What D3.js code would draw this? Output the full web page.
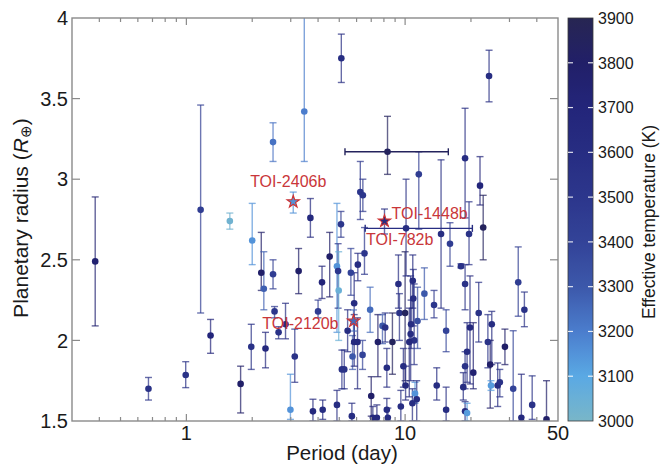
<!DOCTYPE html>
<html><head><meta charset="utf-8">
<script src="https://cdn.jsdelivr.net/npm/d3@7"></script>
<style>
body{margin:0;background:#fff;}
text{font-family:"Liberation Sans",Arial,Helvetica,sans-serif;fill:#1a1a1a;}
</style>
</head><body>
<svg id="chart" width="660" height="470"></svg>
<script>
// ---------------- data ----------------
const period = [0.383,0.671,0.993,1.162,1.29,1.58,1.77,1.98,2.0,2.20,2.26,2.30,2.49,2.49,2.53,2.64,2.84,2.99,3.13,3.26,
  3.46,3.69,3.79,4.0,4.17,4.20,4.52,4.88,5.09,4.88,4.94,4.97,5.11,5.46,5.14,5.27,5.65,5.71,5.75,5.85,
  5.85,6.06,6.08,6.24,6.41,6.39,6.52,6.92,7.0,7.12,7.43,7.51,7.88,8.11,8.25,8.25,8.75,8.31,9.32,9.42,
  10.0,10.84,10.9,10.65,10.6,11.0,11.4,10.45,9.82,10.05,9.56,11.1,11.3,10.8,8.34,12.25,13.56,14.6,15.4,13.95,
  15.4,16.04,18.0,19.6,18.8,11.55,22.0,22.75,24.2,18.8,19.8,21.7,19.2,18.8,20.5,18.45,18.8,19.2,23.9,24.9,
  24.5,28.6,24.7,26.5,27.1,31.2,34.0,38.1,44.3,32.9,35.1];
const radius = [2.49,1.70,1.785,2.81,2.03,2.74,1.73,1.96,2.62,2.42,2.32,1.95,3.23,2.41,2.18,2.05,2.10,1.57,1.90,2.43,
  3.42,2.76,1.56,2.18,2.36,1.57,2.52,1.60,2.72,2.46,2.43,2.31,3.75,2.06,1.82,1.82,2.42,1.53,1.90,2.23,
  1.99,1.99,2.47,2.92,2.90,1.91,2.54,2.19,1.655,1.52,1.52,1.99,2.09,2.08,1.83,1.57,1.99,3.17,2.35,2.17,
  2.17,2.37,2.26,2.10,2.04,2.00,2.12,1.99,1.84,1.72,1.59,1.67,1.635,1.61,1.52,2.29,2.22,2.66,2.06,1.72,
  1.57,2.60,2.46,2.66,3.13,3.03,2.96,2.70,3.64,2.35,2.08,2.17,1.93,1.84,1.80,1.71,1.56,1.55,1.99,2.10,
  1.85,1.96,1.72,1.72,1.74,1.70,1.52,1.60,1.51,2.36,2.19];
const radiusLow = [2.09,1.63,1.707,2.17,1.92,2.69,1.55,1.82,2.47,2.31,2.19,1.83,3.11,2.32,2.14,2.01,2.01,1.51,1.74,2.29,
  3.11,2.64,1.50,2.14,2.26,1.51,2.27,1.50,2.64,2.05,2.20,2.00,3.60,1.93,1.70,1.70,2.28,1.50,1.82,1.98,
  1.84,1.70,2.37,2.75,2.80,1.82,2.41,2.05,1.53,1.50,1.50,1.775,1.98,1.99,1.71,1.50,1.79,3.03,2.20,2.00,
  1.75,2.20,2.09,1.95,1.75,1.85,1.95,1.65,1.71,1.63,1.50,1.61,1.50,1.50,1.50,2.13,2.14,2.20,1.93,1.63,
  1.50,2.46,2.45,2.47,2.76,2.69,2.84,2.50,3.48,2.19,1.73,1.99,1.74,1.70,1.70,1.63,1.50,1.50,1.83,1.85,
  1.58,1.85,1.69,1.59,1.65,1.50,1.50,1.51,1.50,2.15,2.085];
const radiusHigh = [2.89,1.77,1.868,3.46,2.13,2.79,1.84,2.10,2.85,2.67,2.55,2.05,3.35,2.50,2.21,2.085,2.23,1.79,2.07,2.57,
  4.30,2.88,1.635,2.25,2.46,1.63,2.67,1.69,2.80,2.85,2.60,2.55,3.90,2.19,1.94,1.94,2.57,1.61,2.03,2.42,
  2.16,2.14,2.54,3.11,3.00,2.00,2.70,2.33,1.775,1.59,1.60,2.16,2.16,2.17,1.95,1.64,2.17,3.39,2.53,2.29,
  2.55,2.53,2.44,2.25,2.40,2.35,2.33,2.20,1.95,1.84,1.69,1.74,1.75,1.70,1.58,2.45,2.31,3.12,2.19,1.83,
  1.71,2.73,2.475,2.86,3.44,3.17,3.14,2.90,3.80,2.47,2.40,2.36,2.11,1.93,2.11,1.80,1.62,1.61,2.16,2.18,
  2.00,2.07,1.75,1.86,1.82,2.06,1.79,1.78,1.75,2.58,2.30];
const teff = [3750,3550,3550,3450,3700,3030,3800,3550,3150,3800,3280,3650,3230,3450,3500,3550,3600,3150,3550,3800,
  3200,3650,3650,3450,3700,3600,3800,3600,3500,3150,3500,3050,3600,3600,3550,3550,3400,3600,3300,3600,
  3650,3650,3600,3500,3500,3400,3500,3250,3800,3650,3650,3800,3300,3550,3600,3600,3850,3850,3600,3550,
  3850,3600,3600,3600,3600,3550,3350,3650,3600,3650,3600,3150,3600,3600,3600,3300,3500,3600,3400,3600,
  3600,3450,3550,3550,3600,3450,3700,3850,3600,3550,3650,3550,3600,3550,3750,3600,3600,3130,3550,3600,
  3800,3800,3130,3600,3550,3400,3650,3550,3800,3450,3550];

// planet with period uncertainty drawn
const xErrPeriod = [8.31];
const xErrRadius = [3.17];
const xErrLow = [5.31];
const xErrHigh = [15.76];

// labelled planets
const labelNames = ["TOI-2406b","TOI-1448b","TOI-782b","TOI-2120b"];
const labelPeriod = [3.08,8.05,10.1,5.81];
const labelRadius = [2.86,2.74,2.695,2.12];
const labelRLow = [2.79,2.66,2.40,2.058];
const labelRHigh = [2.92,2.815,3.0,2.189];
const labelPLow = [null,null,6.57,null];
const labelPHigh = [null,null,20.3,null];
const labelTeff = [3150,3600,3600,3250];
const labelIsStar = [true,true,false,true];

const xTickLabels = [1,10,50];
const yTickValues = [1.5,2,2.5,3,3.5,4];
const cbTicks = [3000,3100,3200,3300,3400,3500,3600,3700,3800,3900];

// ---------------- chart ----------------
const svg = d3.select("#chart");
const L=72, R=558, T=18, B=421;
const x = d3.scaleLog().domain([0.3,50]).range([L,R]);
const y = d3.scaleLinear().domain([1.5,4]).range([B,T]);
const color = d3.scaleLinear()
  .domain([3000,3100,3200,3300,3400,3500,3600,3700,3800,3900])
  .range(["#79b6c8","#5aa9e4","#4b7dcd","#3c58aa","#334398","#2c368c","#272d82","#23257a","#211f68","#272652"])
  .clamp(true);

svg.append("defs").append("clipPath").attr("id","plotclip")
  .append("rect").attr("x",L).attr("y",T).attr("width",R-L).attr("height",B-T);

const plot = svg.append("g").attr("clip-path","url(#plotclip)");
const cap = 3.5;

function errBar(g, px, r, lo, hi, col){
  const gx = x(px);
  g.append("line").attr("x1",gx).attr("x2",gx).attr("y1",y(lo)).attr("y2",y(hi))
    .attr("stroke",col).attr("stroke-width",1.4).attr("opacity",0.7);
  [lo,hi].forEach(v=>{
    g.append("line").attr("x1",gx-cap).attr("x2",gx+cap).attr("y1",y(v)).attr("y2",y(v))
      .attr("stroke",col).attr("stroke-width",1.4).attr("opacity",0.7);
  });
}
function hBar(g, r, plo, phi, col){
  const gy = y(r);
  g.append("line").attr("x1",x(plo)).attr("x2",x(phi)).attr("y1",gy).attr("y2",gy)
    .attr("stroke",col).attr("stroke-width",1.4);
  [plo,phi].forEach(v=>{
    g.append("line").attr("x1",x(v)).attr("x2",x(v)).attr("y1",gy-cap).attr("y2",gy+cap)
      .attr("stroke",col).attr("stroke-width",1.4);
  });
}

const bars = plot.append("g");
period.forEach((p,i)=>errBar(bars,p,radius[i],radiusLow[i],radiusHigh[i],color(teff[i])));
xErrPeriod.forEach((p,i)=>hBar(bars,xErrRadius[i],xErrLow[i],xErrHigh[i],color(3850)));
labelPeriod.forEach((p,i)=>{
  errBar(bars,p,labelRadius[i],labelRLow[i],labelRHigh[i],color(labelTeff[i]));
  if(labelPLow[i]!=null) hBar(bars,labelRadius[i],labelPLow[i],labelPHigh[i],color(labelTeff[i]));
});

plot.append("g").selectAll("circle").data(period).join("circle")
  .attr("cx",d=>x(d)).attr("cy",(d,i)=>y(radius[i])).attr("r",3.3)
  .attr("fill",(d,i)=>color(teff[i]));

const star = d3.symbol().type(d3.symbolStar).size(48);
labelPeriod.forEach((p,i)=>{
  if(labelIsStar[i]){
    plot.append("path").attr("d",star())
      .attr("transform",`translate(${x(p)},${y(labelRadius[i])})`)
      .attr("fill",color(labelTeff[i])).attr("stroke","#cf3232").attr("stroke-width",1.1);
  } else {
    plot.append("circle").attr("cx",x(p)).attr("cy",y(labelRadius[i])).attr("r",3.3)
      .attr("fill",color(labelTeff[i]));
  }
});

// labels
const labOff = [[-5,-15,"middle"],[7,-2,"start"],[-40,17,"start"],[-15,8,"end"]];
labelNames.forEach((n,i)=>{
  svg.append("text").attr("x",x(labelPeriod[i])+labOff[i][0]).attr("y",y(labelRadius[i])+labOff[i][1])
    .attr("text-anchor",labOff[i][2]).attr("font-size",16).style("fill","#c9363a").text(n);
});

// frame
const axisCol = "#8a8a8a";
svg.append("rect").attr("x",L).attr("y",T).attr("width",R-L).attr("height",B-T)
  .attr("fill","none").attr("stroke",axisCol).attr("stroke-width",1.4);

// x ticks (log)
const allX = x.ticks().filter(v=>v>0.3 && v<50);
allX.forEach(v=>{
  const major = (v===1||v===10);
  const len = major?7:4;
  svg.append("line").attr("x1",x(v)).attr("x2",x(v)).attr("y1",B).attr("y2",B-len).attr("stroke",axisCol).attr("stroke-width",1.2);
  svg.append("line").attr("x1",x(v)).attr("x2",x(v)).attr("y1",T).attr("y2",T+len).attr("stroke",axisCol).attr("stroke-width",1.2);
});
xTickLabels.forEach(v=>{
  svg.append("text").attr("x",x(v)).attr("y",440).attr("text-anchor","middle").attr("font-size",20).text(v);
});
// y ticks
yTickValues.forEach(v=>{
  if(v>1.5 && v<4){
    svg.append("line").attr("x1",L).attr("x2",L+8).attr("y1",y(v)).attr("y2",y(v)).attr("stroke",axisCol).attr("stroke-width",1.2);
    svg.append("line").attr("x1",R).attr("x2",R-8).attr("y1",y(v)).attr("y2",y(v)).attr("stroke",axisCol).attr("stroke-width",1.2);
  }
  svg.append("text").attr("x",68).attr("y",y(v)).attr("dy","0.36em").attr("text-anchor","end").attr("font-size",20).text(v);
});

// axis titles
svg.append("text").attr("x",342).attr("y",460).attr("text-anchor","middle").attr("font-size",20.5).text("Period (day)");
const yl = svg.append("text").attr("transform","translate(28,218) rotate(-90)").attr("text-anchor","middle").attr("font-size",21);
yl.append("tspan").text("Planetary radius (");
yl.append("tspan").attr("font-style","italic").text("R");
yl.append("tspan").attr("font-size",15).attr("dy",3).text("⊕");
yl.append("tspan").attr("dy",-3).text(")");

// colorbar
const cbX=568, cbW=25;
const cy = d3.scaleLinear().domain([3000,3900]).range([B,T]);
const grad = svg.select("defs").append("linearGradient").attr("id","cbgrad")
  .attr("x1",0).attr("y1",1).attr("x2",0).attr("y2",0);
d3.range(3000,3901,25).forEach(t=>{
  grad.append("stop").attr("offset",(t-3000)/900).attr("stop-color",color(t));
});
svg.append("rect").attr("x",cbX).attr("y",T).attr("width",cbW).attr("height",B-T)
  .attr("fill","url(#cbgrad)").attr("stroke","#3a3a3a").attr("stroke-width",0.8);
cbTicks.forEach(t=>{
  if(t>3000 && t<3900){
    svg.append("line").attr("x1",cbX).attr("x2",cbX+5).attr("y1",cy(t)).attr("y2",cy(t)).attr("stroke","#ffffff").attr("stroke-width",1.2).attr("opacity",0.85);
    svg.append("line").attr("x1",cbX+cbW-5).attr("x2",cbX+cbW).attr("y1",cy(t)).attr("y2",cy(t)).attr("stroke","#ffffff").attr("stroke-width",1.2).attr("opacity",0.85);
  }
  svg.append("text").attr("x",598).attr("y",cy(t)).attr("dy","0.36em").attr("font-size",16).text(t);
});
svg.append("text").attr("transform","translate(655,222) rotate(-90)").attr("text-anchor","middle")
  .attr("font-size",17.5).text("Effective temperature (K)");
</script>
</body></html>
